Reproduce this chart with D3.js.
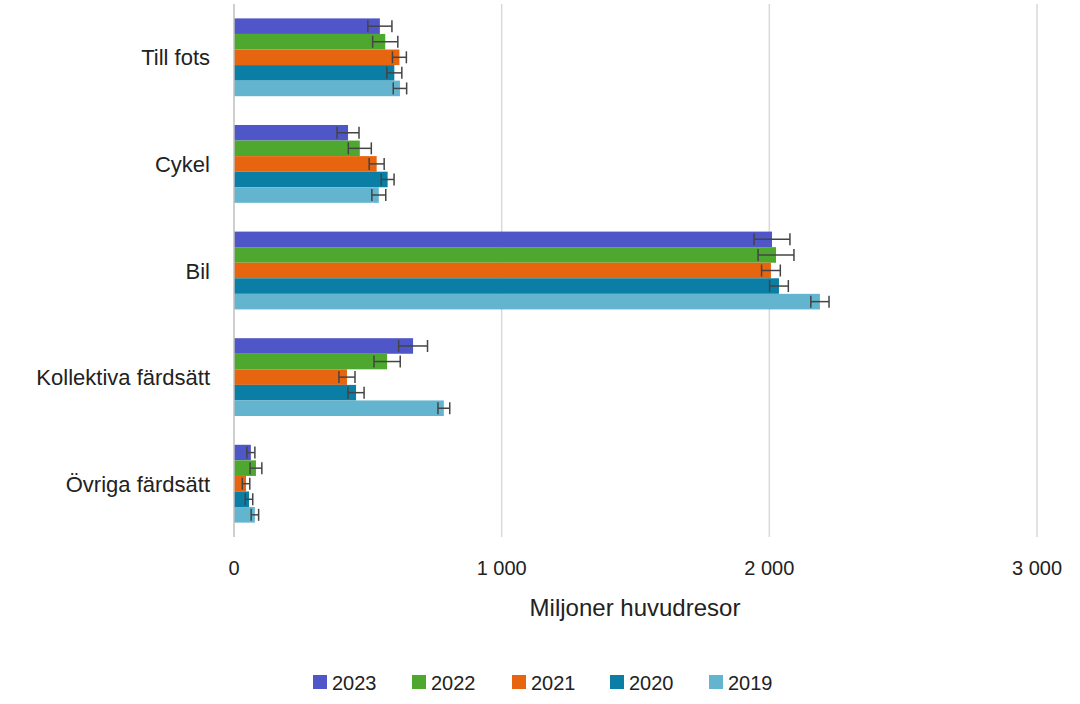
<!DOCTYPE html>
<html><head><meta charset="utf-8">
<script src="https://cdn.jsdelivr.net/npm/d3@7"></script>
<style>body{margin:0;background:#fff;font-family:Arial,"Liberation Sans",sans-serif;}</style>
</head><body>
<svg id="chart" width="1080" height="704"></svg>
<script>
var categories = ["Till fots", "Cykel", "Bil", "Kollektiva färdsätt", "Övriga färdsätt"];
var years = ["2023", "2022", "2021", "2020", "2019"];
var colors = ["#4f57c8", "#4ea72e", "#e8650f", "#0a7ea4", "#63b5cf"];
// values per year, in category order
var values = {
  "2023": [545, 426, 2010, 669, 63],
  "2022": [565, 470, 2025, 572, 82],
  "2021": [618, 533, 2006, 422, 45],
  "2020": [599, 574, 2036, 456, 56],
  "2019": [620, 541, 2189, 784, 78]
};
var errors = {
  "2023": [45, 41, 67, 54, 15],
  "2022": [47, 43, 67, 49, 22],
  "2021": [26, 28, 35, 30, 14],
  "2020": [28, 24, 35, 30, 14],
  "2019": [25, 26, 34, 22, 14]
};
var ticks = [0, 1000, 2000, 3000];

var svg = d3.select("#chart");
var x = d3.scaleLinear().domain([0, 3000]).range([234, 1037]);
var y = d3.scaleBand().domain(categories).range([4, 537]).paddingInner(0.27).paddingOuter(0.135);
var yi = d3.scaleBand().domain(years).range([0, y.bandwidth()]);

// gridlines
svg.selectAll(".grid").data(ticks.slice(1)).enter().append("line")
  .attr("x1", d => x(d)).attr("x2", d => x(d))
  .attr("y1", 4).attr("y2", 537)
  .attr("stroke", "#d9d9d9").attr("stroke-width", 1.5);

var fmt = d => d3.format(",")(d).replace(",", " ");
svg.selectAll(".tick").data(ticks).enter().append("text")
  .attr("x", d => x(d)).attr("y", 575)
  .attr("text-anchor", "middle").attr("font-size", 20).attr("fill", "#222")
  .text(fmt);

svg.append("text").attr("x", 635).attr("y", 616).attr("text-anchor", "middle")
  .attr("font-size", 24).attr("fill", "#222").text("Miljoner huvudresor");

svg.selectAll(".cat").data(categories).enter().append("text")
  .attr("x", 210).attr("y", d => y(d) + y.bandwidth() / 2 + 8)
  .attr("text-anchor", "end").attr("font-size", 22).attr("fill", "#222")
  .text(d => d);

years.forEach(function (yr, j) {
  var g = svg.append("g");
  categories.forEach(function (c, i) {
    var v = values[yr][i], e = errors[yr][i];
    var y0 = y(c) + yi(yr), h = yi.bandwidth();
    g.append("rect").attr("x", x(0)).attr("y", y0)
      .attr("width", x(v) - x(0)).attr("height", h).attr("fill", colors[j]);
    var cy = y0 + h / 2;
    g.append("line").attr("x1", x(v - e)).attr("x2", x(v + e)).attr("y1", cy).attr("y2", cy)
      .attr("stroke", "#444").attr("stroke-width", 1.5);
    [v - e, v + e].forEach(function (t) {
      g.append("line").attr("x1", x(t)).attr("x2", x(t)).attr("y1", cy - 6).attr("y2", cy + 6)
        .attr("stroke", "#444").attr("stroke-width", 1.5);
    });
  });
});

// axis line at zero
svg.append("line").attr("x1", x(0)).attr("x2", x(0)).attr("y1", 4).attr("y2", 537)
  .attr("stroke", "#bfbfbf").attr("stroke-width", 1.5);

// legend
var lx = [313, 412, 512, 610, 709];
years.forEach(function (yr, j) {
  svg.append("rect").attr("x", lx[j]).attr("y", 675).attr("width", 14).attr("height", 14).attr("fill", colors[j]);
  svg.append("text").attr("x", lx[j] + 19).attr("y", 690).attr("font-size", 20).attr("fill", "#222").text(yr);
});
</script>
</body></html>
